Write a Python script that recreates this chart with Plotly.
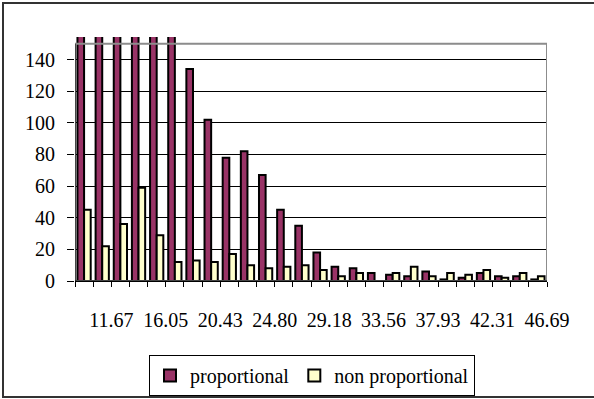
import plotly.graph_objects as go

categories = ["10.21", "11.67", "13.13", "14.59", "16.05", "17.51", "18.97", "20.43",
              "21.89", "23.35", "24.80", "26.26", "27.72", "29.18", "30.64", "32.10",
              "33.56", "35.02", "36.48", "37.93", "39.39", "40.85", "42.31", "43.77",
              "45.23", "46.69"]
proportional = [210, 280, 330, 300, 240, 170, 134, 102, 78, 82, 67, 45, 35, 18, 9, 8,
                5, 4, 3, 6, 1, 2, 5, 3, 3, 1]
non_proportional = [45, 22, 36, 59, 29, 12, 13, 12, 17, 10, 8, 9, 10, 7, 3, 5,
                    0, 5, 9, 3, 5, 4, 7, 2, 5, 3]
label_every = 3
label_start = 1  # index of first labelled category

FONT = "Times New Roman, Liberation Serif, Tinos, serif"
pos = list(range(1, len(categories) + 1))
tickpos = [pos[i] + 0.5 for i in range(label_start, len(categories), label_every)]
ticktxt = [categories[i] for i in range(label_start, len(categories), label_every)]

fig = go.Figure()
fig.add_trace(go.Bar(x=pos, y=proportional, name="proportional",
                     marker=dict(color="#993366", line=dict(color="black", width=2))))
fig.add_trace(go.Bar(x=pos, y=non_proportional, name="non proportional",
                     marker=dict(color="#FFFFCC", line=dict(color="black", width=2))))

L, R, T, B = 75, 47, 37, 118
W, H = 594, 399
pw, ph = W - L - R, H - T - B

def px(xp):
    return (xp - L) / pw

def py(yp):
    return (H - B - yp) / ph

fig.update_layout(
    width=W, height=H,
    margin=dict(l=L, r=R, t=T, b=B, autoexpand=False),
    paper_bgcolor="white", plot_bgcolor="white",
    barmode="group", bargap=0.27, bargroupgap=0,
    font=dict(family=FONT, size=20, color="black"),
    showlegend=True,
    legend=dict(orientation="h", x=px(149), y=py(355), xanchor="left", yanchor="top",
                bordercolor="black", borderwidth=1, bgcolor="white",
                font=dict(family=FONT, size=20, color="black"),
                itemwidth=30, tracegroupgap=0),
    xaxis=dict(range=[0.5, len(categories) + 0.5], tickmode="array",
               tickvals=tickpos, ticktext=ticktxt, ticks="outside", ticklen=5,
               tickcolor="black", tickwidth=1, showgrid=False, zeroline=False,
               showline=True, linecolor="black", linewidth=1, automargin=False,
               ticklabelstandoff=16,
               tickfont=dict(family=FONT, size=20, color="black"),
               minor=dict(ticks="outside", ticklen=5, tickcolor="black", tickwidth=1,
                          tick0=0.5, dtick=1, showgrid=False)),
    yaxis=dict(range=[0, 154.3], tickmode="linear", tick0=0, dtick=20,
               ticks="outside", ticklen=7, tickcolor="black", tickwidth=1,
               showgrid=True, gridcolor="black", gridwidth=1, zeroline=False,
               showline=False, ticklabelstandoff=8, automargin=False,
               tickfont=dict(family=FONT, size=20, color="black")),
    shapes=[
        dict(type="rect", xref="x", yref="y", x0=0.5, x1=len(categories) + 0.5, y0=0, y1=150,
             line=dict(color="#8c8c8c", width=2), layer="above"),
        dict(type="line", xref="x", yref="y", x0=0.5, x1=0.5, y0=0, y1=150,
             line=dict(color="black", width=1), layer="above"),
        dict(type="line", xref="x", yref="y", x0=0.5, x1=len(categories) + 0.5, y0=0, y1=0,
             line=dict(color="black", width=1), layer="above"),
        dict(type="rect", xref="paper", yref="paper", x0=px(3), x1=px(610), y0=py(397), y1=py(3),
             line=dict(color="#333333", width=2), layer="above"),
    ],
)

fig.write_html("out.html", config={"displayModeBar": False},
               post_script="document.body.style.margin='0';document.body.style.padding='0';")
